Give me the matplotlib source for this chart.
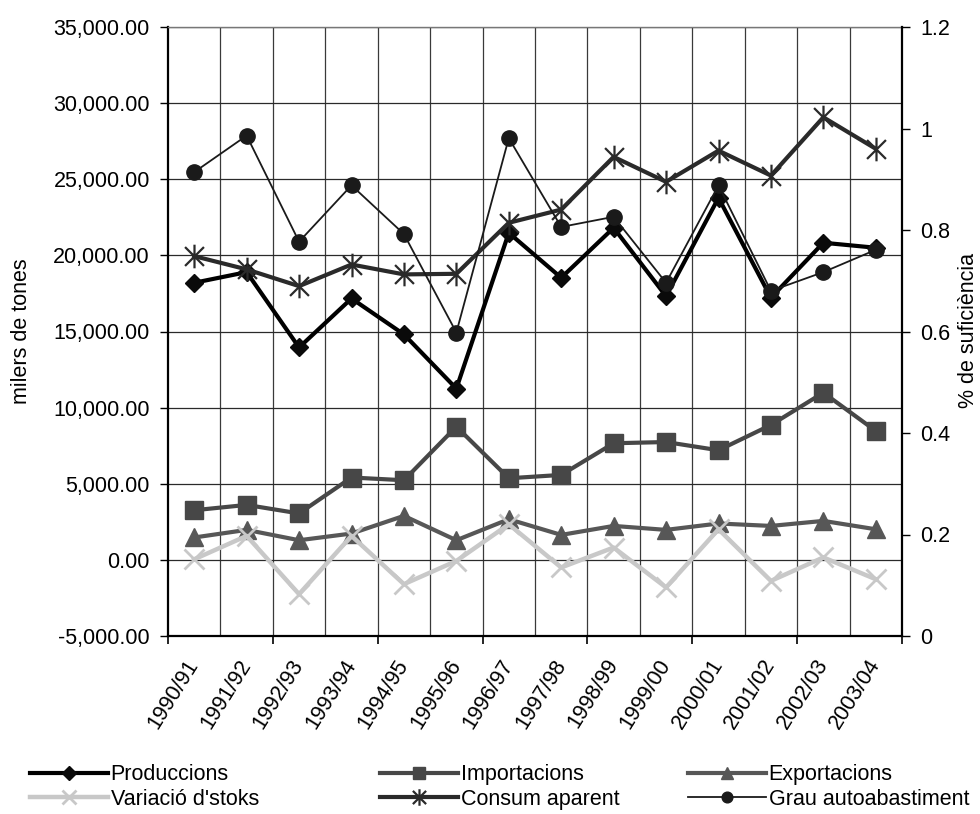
import matplotlib
matplotlib.use("Agg")
import matplotlib.pyplot as plt
from matplotlib.path import Path
from matplotlib.ticker import FuncFormatter
import numpy as np

plt.rcParams['font.family'] = ['Liberation Sans', 'DejaVu Sans']

cats = ['1990/91', '1991/92', '1992/93', '1993/94', '1994/95', '1995/96', '1996/97',
        '1997/98', '1998/99', '1999/00', '2000/01', '2001/02', '2002/03', '2003/04']
produccions = [18200, 18900, 13950, 17170, 14810, 11250, 21480, 18530, 21810, 17320, 23780, 17220, 20830, 20500]
importacions = [3260, 3610, 3050, 5410, 5230, 8750, 5360, 5580, 7660, 7740, 7200, 8860, 10980, 8470]
exportacions = [1470, 1970, 1290, 1730, 2890, 1290, 2670, 1640, 2230, 1970, 2390, 2230, 2560, 2010]
variacio = [40, 1575, -2250, 1575, -1595, -70, 2340, -500, 810, -1810, 2010, -1380, 160, -1270]
consum = [19950, 19080, 17980, 19400, 18750, 18790, 22140, 23010, 26470, 24830, 26880, 25240, 29070, 27000]
grau = [0.914, 0.986, 0.777, 0.888, 0.792, 0.598, 0.981, 0.806, 0.826, 0.696, 0.888, 0.680, 0.717, 0.761]

labels = ['Produccions', 'Importacions', 'Exportacions', "Variació d'stoks", 'Consum aparent', 'Grau autoabastiment']

FS = 15.5
W, H = 980, 814
fig = plt.figure(figsize=(W / 100, H / 100), dpi=100)
L, R, T, B = 168, 902, 27, 636
ax = fig.add_axes([L / W, 1 - B / H, (R - L) / W, (B - T) / H])
ax2 = ax.twinx()

x = np.arange(len(cats))

star = Path([(-1, -1), (1, 1), (-1, 1), (1, -1), (0, -1.25), (0, 1.25)],
            [Path.MOVETO, Path.LINETO, Path.MOVETO, Path.LINETO, Path.MOVETO, Path.LINETO])

h1, = ax.plot(x, produccions, color='#000000', lw=3.0, marker='D', ms=9.5,
              mfc='#0a0a0a', mec='#0a0a0a', zorder=3)
h2, = ax.plot(x, importacions, color='#474747', lw=3.0, marker='s', ms=13,
              mfc='#474747', mec='#474747', zorder=3)
h3, = ax.plot(x, exportacions, color='#575757', lw=3.0, marker='^', ms=13,
              mfc='#575757', mec='#575757', zorder=3)
h4, = ax.plot(x, variacio, color='#c8c8c8', lw=3.2, marker='x', ms=14, mew=2,
              mec='#c8c8c8', zorder=3)
h5, = ax.plot(x, consum, color='#2a2a2a', lw=3.0, marker=star, ms=17, mew=1.6,
              mec='#2a2a2a', mfc='none', zorder=3)
h6, = ax2.plot(x, grau, color='#1a1a1a', lw=1.3, marker='o', ms=11,
               mfc='#1a1a1a', mec='#1a1a1a', zorder=3)

ax.set_xlim(-0.5, len(cats) - 0.5)
ax.set_ylim(-5000, 35000)
ax.set_yticks(np.arange(-5000, 35001, 5000))
ax.yaxis.set_major_formatter(FuncFormatter(lambda v, p: f'{v:,.2f}'))
ax2.set_ylim(0, 1.2)
ax2.set_yticks(np.arange(0, 1.21, 0.2))
ax2.yaxis.set_major_formatter(FuncFormatter(lambda v, p: f'{v:.1f}'.rstrip('0').rstrip('.') if v != 0 else '0'))

bounds = np.arange(len(cats) + 1) - 0.5
ax.set_xticks(bounds[::2])
ax.set_xticklabels([])
ax.set_xticks(x, minor=True)
ax.set_xticklabels(cats, minor=True, rotation=58, ha='right', va='center',
                   rotation_mode='anchor', fontsize=FS)
ax.tick_params(axis='x', which='major', length=6, width=1.2, direction='out', color='black')
ax.tick_params(axis='x', which='minor', length=0, pad=18)
ax.tick_params(axis='y', length=6, width=1.0, direction='out', labelsize=FS, pad=7)
ax2.tick_params(axis='y', length=6, width=1.0, direction='out', labelsize=FS, pad=7)

for b in bounds[1:-1]:
    ax.axvline(b, color='#3a3a3a', lw=0.9, zorder=0.5)
for yv in np.arange(0, 35001, 5000):
    ax.axhline(yv, color='#2a2a2a', lw=0.9, zorder=0.5)

for sp in ['left', 'bottom']:
    ax.spines[sp].set_linewidth(1.6)
    ax.spines[sp].set_color('black')
ax.spines['top'].set_color('#777777')
ax.spines['top'].set_linewidth(1.0)
ax2.spines['right'].set_linewidth(1.6)
ax2.spines['top'].set_visible(False)
ax2.spines['left'].set_visible(False)
ax2.spines['bottom'].set_visible(False)
ax.spines['right'].set_visible(False)

fig.text(22 / W, 1 - 331 / H, 'milers de tones', rotation=90, ha='center', va='center', fontsize=FS)
fig.text(968 / W, 1 - 331 / H, '% de suficiència', rotation=90, ha='center', va='center', fontsize=FS)

handles = [h1, h2, h3, h4, h5, h6]
col_x = [30, 380, 688]
for i, cx in enumerate(col_x):
    fig.legend([handles[i], handles[i + 3]], [labels[i], labels[i + 3]],
               loc='center left', bbox_to_anchor=(cx / W, 1 - 787 / H),
               frameon=False, fontsize=FS, handlelength=3.6, handletextpad=0.15,
               labelspacing=0.15, borderpad=0, borderaxespad=0, markerscale=0.7)

fig.savefig('out.png', dpi=100)
